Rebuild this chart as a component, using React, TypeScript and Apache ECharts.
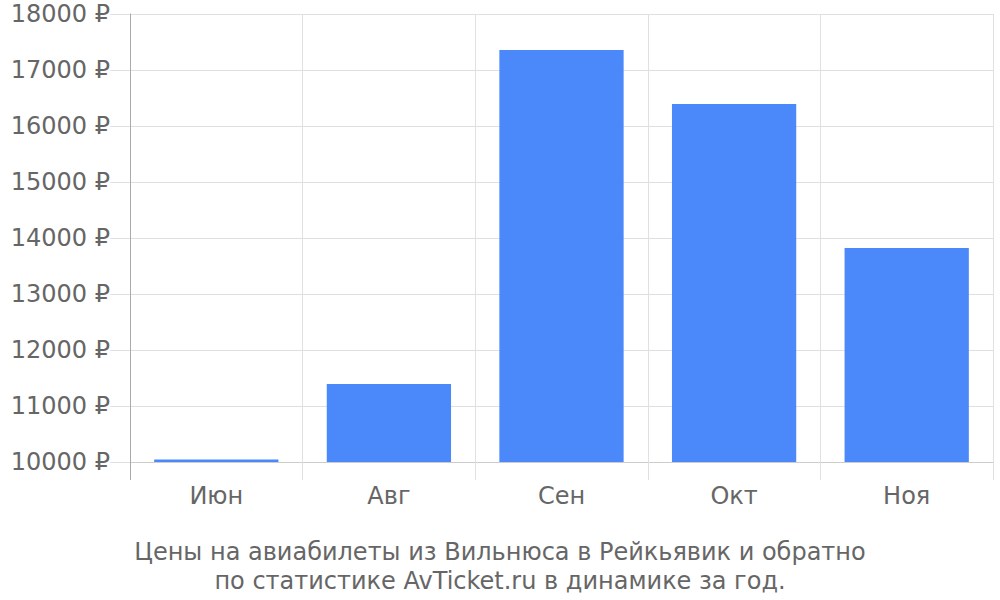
import React, { useEffect, useRef } from "react";
import * as echarts from "echarts";

const categories = ["Июн", "Авг", "Сен", "Окт", "Ноя"];
const prices = [10045, 11393, 17357, 16393, 13821];
const yMin = 10000;
const yMax = 18000;
const yStep = 1000;
const titleLines = [
  "Цены на авиабилеты из Вильнюса в Рейкьявик и обратно",
  "по статистике AvTicket.ru в динамике за год.",
];

export default function App() {
  const ref = useRef<HTMLDivElement>(null);
  useEffect(() => {
    if (!ref.current) return;
    const chart = echarts.init(ref.current, null, { renderer: "svg" });
    const font = "DejaVu Sans";
    chart.setOption({
      animation: false,
      textStyle: { fontFamily: font },
      title: {
        text: titleLines.join("\n"),
        left: "center",
        top: 532,
        textStyle: {
          fontFamily: font,
          fontSize: 24,
          fontWeight: "normal",
          color: "#666666",
          lineHeight: 29,
        },
      },
      grid: { left: 130, right: 7, top: 14, bottom: 138, containLabel: false },
      xAxis: {
        type: "category",
        data: categories,
        boundaryGap: true,
        axisLine: { show: true, lineStyle: { color: "#cccccc", width: 1 } },
        axisTick: { show: true, length: 18, lineStyle: { color: "#e0e0e0" } },
        axisLabel: { color: "#666666", fontSize: 24, fontFamily: font, margin: 22 },
        splitLine: { show: true, lineStyle: { color: "#e0e0e0", width: 1 } },
      },
      yAxis: {
        type: "value",
        min: yMin,
        max: yMax,
        interval: yStep,
        axisLine: { show: true, lineStyle: { color: "#aaaaaa", width: 1 } },
        axisTick: { show: true, length: 20, lineStyle: { color: "#e0e0e0" } },
        axisLabel: {
          color: "#666666",
          fontSize: 24,
          fontFamily: font,
          margin: 20,
          formatter: (v: number) => `${v} ₽`,
        },
        splitLine: { show: true, lineStyle: { color: "#e0e0e0", width: 1 } },
      },
      graphic: [
        {
          type: "line",
          shape: { x1: 130.5, y1: 462, x2: 130.5, y2: 480 },
          style: { stroke: "#aaaaaa", lineWidth: 1 },
          z: 10,
        },
      ],
      series: [
        {
          type: "bar",
          data: prices,
          barWidth: "72%",
          itemStyle: { color: "#4b89fa" },
        },
      ],
    });
    return () => chart.dispose();
  }, []);
  return <div ref={ref} style={{ width: 1000, height: 600, position: "absolute", left: 0, top: 0 }} />;
}
